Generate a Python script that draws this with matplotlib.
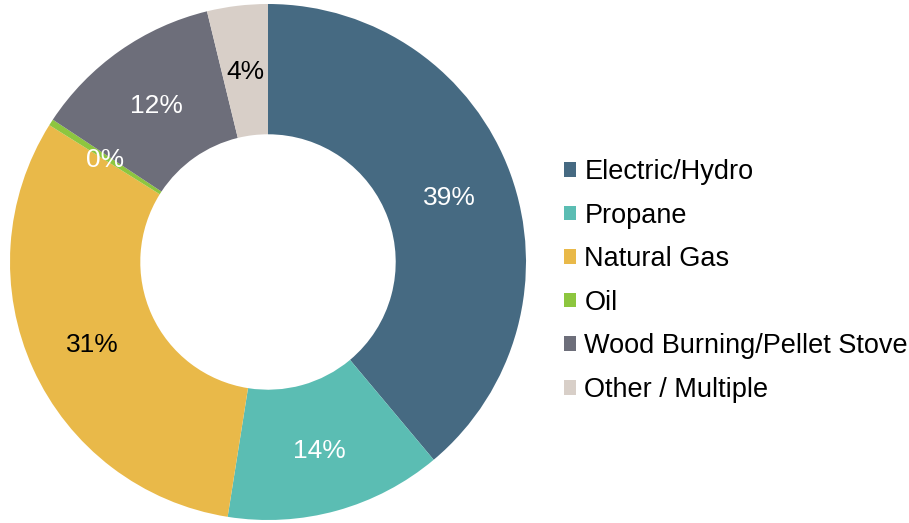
import matplotlib.pyplot as plt
from matplotlib.patches import Patch

plt.rcParams['font.family'] = ['Liberation Sans', 'DejaVu Sans']

sources = ['Electric/Hydro', 'Propane', 'Natural Gas', 'Oil',
           'Wood Burning/Pellet Stove', 'Other / Multiple']
shares = [38.9, 13.6, 31.4, 0.4, 11.9, 3.8]
labels = ['39%', '14%', '31%', '0%', '12%', '4%']
colors = ['#466a82', '#5bbdb3', '#e9b949', '#8dc63f', '#6d6e7a', '#d8cfc8']
label_colors = ['white', 'white', 'black', 'white', 'white', 'black']

W, H = 909, 523
fig = plt.figure(figsize=(W / 100, H / 100), dpi=100)
cx, cy, r = 268, 261, 258
ax = fig.add_axes([(cx - r) / W, (cy - r) / H, 2 * r / W, 2 * r / H])

wedges, texts = ax.pie(shares, colors=colors, startangle=90, counterclock=False,
                       radius=1.0, wedgeprops=dict(width=0.505, linewidth=0),
                       labels=labels, labeldistance=0.75)
for t, c in zip(texts, label_colors):
    t.set_color(c)
    t.set_fontsize(19)
    t.set_ha('center')
    t.set_va('center_baseline')
ax.set_xlim(-1, 1)
ax.set_ylim(-1, 1)
ax.set_aspect('equal')
ax.axis('off')

handles = [Patch(facecolor=c, edgecolor='none') for c in colors]
fig.legend(handles, sources, loc='upper left', bbox_to_anchor=(564 / W, 1 - 159 / H),
           frameon=False, fontsize=19.5, handlelength=0.45, handleheight=0.45,
           handletextpad=0.3, labelspacing=0.65, borderaxespad=0, borderpad=0)

fig.savefig('out.png', dpi=100)
